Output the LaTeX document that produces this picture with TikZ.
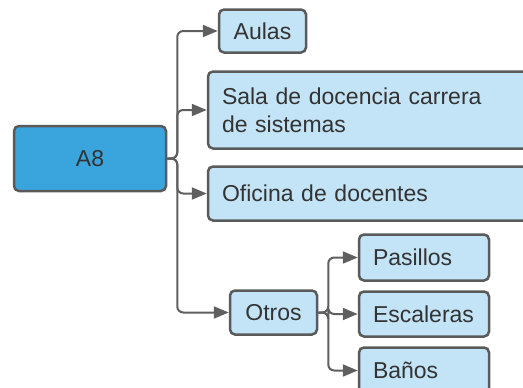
\documentclass[tikz,border=0pt]{standalone}
\usepackage{fontspec}
\setmainfont{Liberation Sans}
\usetikzlibrary{arrows.meta}
\definecolor{boxline}{HTML}{5A5A5A}
\definecolor{lightfill}{HTML}{C3E3F6}
\definecolor{darkfill}{HTML}{3AA5DC}
\definecolor{conncol}{HTML}{5F5F5F}
\definecolor{txt}{HTML}{333333}
\tikzset{
  box/.style={draw=boxline, line width=2.5pt, rounded corners=5pt, fill=lightfill,
    text=txt, font=\fontsize{23}{28}\selectfont, inner sep=0pt},
  rootbox/.style={box, fill=darkfill},
  conn/.style={draw=conncol, line width=2pt, rounded corners=6pt,
    -{Triangle[length=15pt,width=12pt]}},
}
\begin{document}
\begin{tikzpicture}[x=1pt,y=-1pt]
\useasboundingbox (0,0) rectangle (523,388);
\node[rootbox, minimum width=152pt, minimum height=65pt] (a8) at (90,158.5) {A8};
\node[box, minimum width=87pt, minimum height=43pt] (aulas) at (262.5,31) {Aulas};
\node[box, minimum width=322pt, minimum height=77pt, text width=294pt, align=left] (sala) at (369,110) {Sala de docencia carrera\\de sistemas};
\node[box, minimum width=322pt, minimum height=54pt, text width=294pt, align=left] (ofi) at (369,193.5) {Oficina de docentes};
\node[box, minimum width=87pt, minimum height=44pt] (otros) at (273.5,312.5) {Otros};
\node[box, minimum width=130pt, minimum height=46pt, text width=102pt, align=left] (pas) at (424,257.5) {Pasillos};
\node[box, minimum width=130pt, minimum height=45pt, text width=102pt, align=left] (esc) at (424,314) {Escaleras};
\node[box, minimum width=130pt, minimum height=46pt, text width=102pt, align=left] (ban) at (424,370.5) {Baños};
\foreach \t in {aulas,sala,ofi,otros}
  \draw[conn] (a8.east) -- ++(10,0) |- (\t.west);
\foreach \t in {pas,esc,ban}
  \draw[conn] (otros.east) -- ++(10,0) |- (\t.west);
\end{tikzpicture}
\end{document}
